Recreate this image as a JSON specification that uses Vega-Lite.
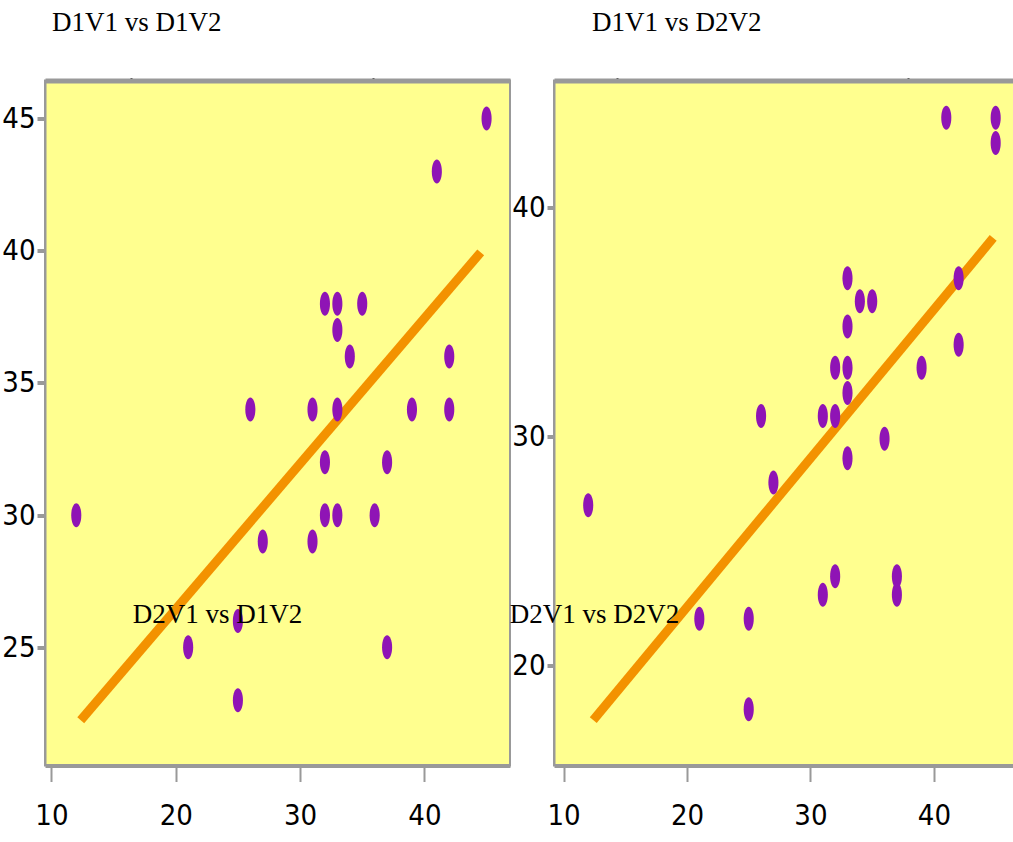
{
  "$schema": "https://vega.github.io/schema/vega-lite/v6.json",
  "background": "white",
  "padding": {"left": 0, "top": 7.5, "right": 0, "bottom": 0},
  "spacing": 44,
  "bounds": "flush",
  "config": {
    "view": {"fill": "#ffff8f", "stroke": "#999999", "strokeWidth": 2},
    "axis": {"grid": false, "title": null, "labelFont": "DejaVu Sans Condensed", "labelFontSize": 29, "labelColor": "#000000", "domainColor": "#999999", "tickColor": "#999999", "labelFlush": false, "labelOverlap": false}
  },
  "datasets": {
    "p1": [
      {"x": 45, "y": 45}, {"x": 41, "y": 43}, {"x": 32, "y": 38}, {"x": 33, "y": 38}, {"x": 35, "y": 38},
      {"x": 33, "y": 37}, {"x": 34, "y": 36}, {"x": 42, "y": 36}, {"x": 26, "y": 34}, {"x": 31, "y": 34},
      {"x": 33, "y": 34}, {"x": 39, "y": 34}, {"x": 42, "y": 34}, {"x": 32, "y": 32}, {"x": 37, "y": 32},
      {"x": 12, "y": 30}, {"x": 32, "y": 30}, {"x": 33, "y": 30}, {"x": 36, "y": 30}, {"x": 27, "y": 29},
      {"x": 31, "y": 29}, {"x": 25, "y": 26}, {"x": 21, "y": 25}, {"x": 37, "y": 25}, {"x": 25, "y": 23}
    ],
    "p2": [
      {"x": 41, "y": 43.9}, {"x": 45, "y": 43.9}, {"x": 45, "y": 42.8}, {"x": 33, "y": 36.9}, {"x": 42, "y": 36.9},
      {"x": 34, "y": 35.9}, {"x": 35, "y": 35.9}, {"x": 33, "y": 34.8}, {"x": 42, "y": 34.0}, {"x": 32, "y": 33.0},
      {"x": 33, "y": 33.0}, {"x": 39, "y": 33.0}, {"x": 33, "y": 31.9}, {"x": 26, "y": 30.9}, {"x": 31, "y": 30.9},
      {"x": 32, "y": 30.9}, {"x": 36, "y": 29.9}, {"x": 33, "y": 29.05}, {"x": 27, "y": 28.0}, {"x": 12, "y": 27.0},
      {"x": 32, "y": 23.9}, {"x": 37, "y": 23.9}, {"x": 31, "y": 23.1}, {"x": 37, "y": 23.1}, {"x": 21, "y": 22.05},
      {"x": 25, "y": 22.05}, {"x": 25, "y": 18.1}
    ],
    "l1": [{"x": 12.36, "y": 22.24}, {"x": 44.53, "y": 39.94}],
    "l2": [{"x": 12.41, "y": 17.63}, {"x": 44.8, "y": 38.66}],
    "t1": [{"label": "D2V1 vs D1V2"}],
    "t2": [{"label": "D2V1 vs D2V2"}]
  },
  "hconcat": [
    {
      "width": 465,
      "height": 685,
      "title": {"text": "D1V1 vs D1V2", "anchor": "start", "frame": "group", "font": "Liberation Serif", "fontSize": 27, "fontWeight": "normal", "color": "#000000", "offset": 40, "dx": 7},
      "resolve": {"scale": {"x": "independent"}, "axis": {"x": "independent"}},
      "layer": [
        {
          "layer": [
            {
              "data": {"name": "l1"},
              "mark": {"type": "line", "color": "#f39200", "strokeWidth": 9, "strokeCap": "butt"},
              "encoding": {
                "x": {"field": "x", "type": "quantitative", "scale": {"domain": [9.485, 46.885], "nice": false, "zero": false},
                  "axis": {"orient": "bottom", "values": [10, 20, 30, 40], "domainWidth": 4, "tickSize": 16, "tickWidth": 2, "labelPadding": 20}},
                "y": {"field": "y", "type": "quantitative", "scale": {"domain": [20.53, 46.44], "nice": false, "zero": false},
                  "axis": {"values": [25, 30, 35, 40, 45], "domainWidth": 2, "tickSize": 8, "tickWidth": 4, "labelPadding": 2}}
              }
            },
            {
              "data": {"name": "p1"},
              "mark": {"type": "point", "filled": true, "opacity": 1, "color": "#8f14b5", "size": 576,
                "shape": "M0,-1C0.232,-1 0.42,-0.552 0.42,0C0.42,0.552 0.232,1 0,1C-0.232,1 -0.42,0.552 -0.42,0C-0.42,-0.552 -0.232,-1 0,-1Z"},
              "encoding": {
                "x": {"field": "x", "type": "quantitative"},
                "y": {"field": "y", "type": "quantitative"}
              }
            }
          ]
        },
        {
          "data": {"name": "t1"},
          "mark": {"type": "text", "font": "Liberation Serif", "fontSize": 27, "color": "#000000", "align": "center", "baseline": "alphabetic"},
          "encoding": {
            "x": {"datum": 23.35, "type": "quantitative", "scale": {"domain": [9.485, 46.885], "nice": false, "zero": false},
              "axis": {"orient": "top", "values": [16.38, 35.87], "labels": false, "domainWidth": 5, "domainColor": "#999999", "tickColor": "#333333", "tickSize": 3, "tickWidth": 2}},
            "y": {"datum": 25.91, "type": "quantitative"},
            "text": {"field": "label", "type": "nominal"}
          }
        }
      ]
    },
    {
      "width": 466,
      "height": 685,
      "title": {"text": "D1V1 vs D2V2", "anchor": "start", "frame": "group", "font": "Liberation Serif", "fontSize": 27, "fontWeight": "normal", "color": "#000000", "offset": 40, "dx": 38},
      "resolve": {"scale": {"x": "independent"}, "axis": {"x": "independent"}},
      "layer": [
        {
          "layer": [
            {
              "data": {"name": "l2"},
              "mark": {"type": "line", "color": "#f39200", "strokeWidth": 9, "strokeCap": "butt"},
              "encoding": {
                "x": {"field": "x", "type": "quantitative", "scale": {"domain": [9.23, 46.97], "nice": false, "zero": false},
                  "axis": {"orient": "bottom", "values": [10, 20, 30, 40], "domainWidth": 4, "tickSize": 16, "tickWidth": 2, "labelPadding": 20}},
                "y": {"field": "y", "type": "quantitative", "scale": {"domain": [15.65, 45.53], "nice": false, "zero": false},
                  "axis": {"values": [20, 30, 40], "domainWidth": 2, "tickSize": 7, "tickWidth": 4, "labelPadding": 2}}
              }
            },
            {
              "data": {"name": "p2"},
              "mark": {"type": "point", "filled": true, "opacity": 1, "color": "#8f14b5", "size": 576,
                "shape": "M0,-1C0.232,-1 0.42,-0.552 0.42,0C0.42,0.552 0.232,1 0,1C-0.232,1 -0.42,0.552 -0.42,0C-0.42,-0.552 -0.232,-1 0,-1Z"},
              "encoding": {
                "x": {"field": "x", "type": "quantitative"},
                "y": {"field": "y", "type": "quantitative"}
              }
            }
          ]
        },
        {
          "data": {"name": "t2"},
          "mark": {"type": "text", "font": "Liberation Serif", "fontSize": 27, "color": "#000000", "align": "center", "baseline": "alphabetic"},
          "encoding": {
            "x": {"datum": 12.51, "type": "quantitative", "scale": {"domain": [9.23, 46.97], "nice": false, "zero": false},
              "axis": {"orient": "top", "values": [14.37, 37.86], "labels": false, "domainWidth": 5, "domainColor": "#999999", "tickColor": "#333333", "tickSize": 3, "tickWidth": 2}},
            "y": {"datum": 21.86, "type": "quantitative"},
            "text": {"field": "label", "type": "nominal"}
          }
        }
      ]
    }
  ]
}
